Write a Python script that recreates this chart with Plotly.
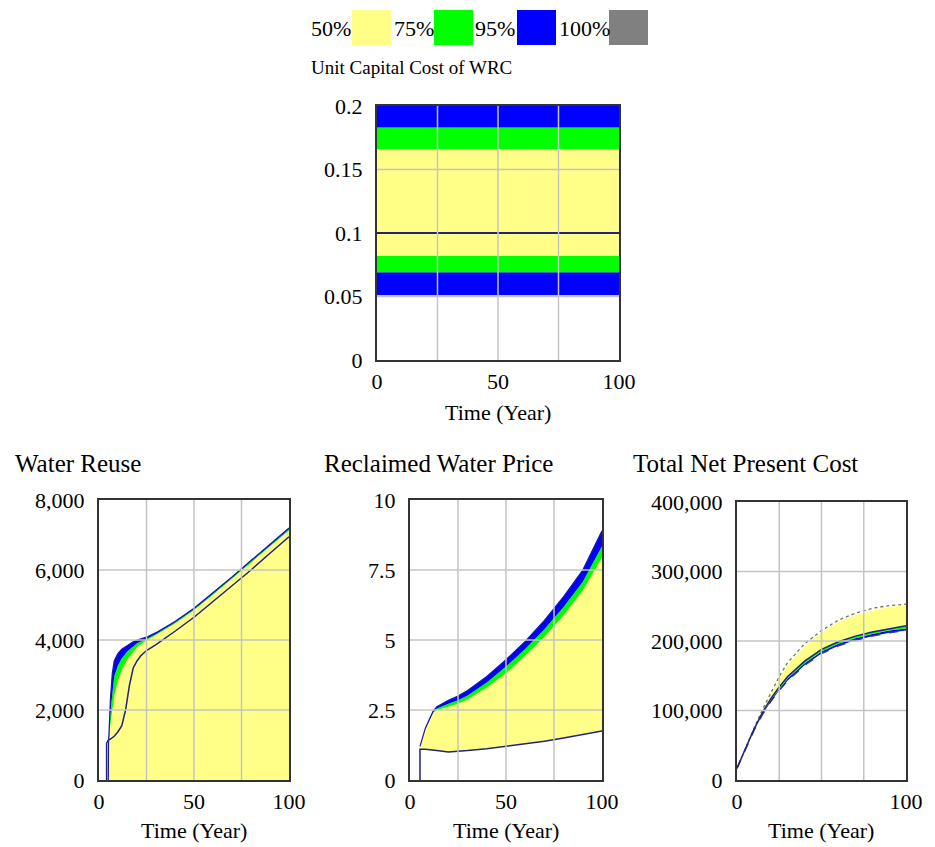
import plotly.graph_objects as go

# ---------------- data ----------------
legend_labels = ["50%", "75%", "95%", "100%"]
legend_colors = ["#FFFF88", "#00FF00", "#0000FF", "#808080"]

# Unit Capital Cost of WRC (constant bands)
wrc_t = [0, 100]
wrc_95_lo = [0.051, 0.051]
wrc_75_lo = [0.069, 0.069]
wrc_50_lo = [0.082, 0.082]
wrc_50_hi = [0.166, 0.166]
wrc_75_hi = [0.183, 0.183]
wrc_95_hi = [0.2, 0.2]
wrc_base = [0.1, 0.1]

# Water Reuse
wr_t = [4.9, 5, 6, 7, 8, 10, 12, 15, 18, 20, 25, 30, 40, 50, 60, 70, 80, 90, 100]
wr_50_hi = [0, 1000, 1600, 2000, 2400, 2850, 3150, 3450, 3680, 3800, 3990, 4140, 4470, 4850, 5290, 5740, 6210, 6670, 7130]
wr_75_hi = [0, 1000, 1950, 2550, 2950, 3280, 3480, 3680, 3830, 3910, 4030, 4170, 4500, 4880, 5320, 5770, 6240, 6700, 7165]
wr_95_hi = [0, 1000, 2300, 3050, 3400, 3620, 3740, 3850, 3950, 4000, 4080, 4210, 4530, 4910, 5350, 5800, 6270, 6730, 7200]
wr_base_t = [4, 4, 5, 6, 8, 10, 12, 14, 16, 18, 20, 22, 25, 30, 40, 50, 60, 70, 80, 90, 100]
wr_base = [0, 1050, 1150, 1170, 1250, 1380, 1550, 2000, 2700, 3200, 3400, 3550, 3700, 3870, 4250, 4650, 5100, 5550, 6000, 6480, 6950]

# Reclaimed Water Price
rwp_t = [5.2, 8, 12, 14, 20, 25, 30, 40, 50, 60, 70, 80, 90, 100]
rwp_lo = [1.1, 1.1, 1.08, 1.05, 1.0, 1.02, 1.05, 1.12, 1.2, 1.28, 1.38, 1.5, 1.62, 1.75]
rwp_50_hi = [1.2, 1.8, 2.4, 2.5, 2.62, 2.72, 2.88, 3.3, 3.82, 4.44, 5.12, 5.88, 6.78, 7.95]
rwp_75_hi = [1.2, 1.83, 2.42, 2.55, 2.72, 2.85, 3.02, 3.48, 4.05, 4.68, 5.38, 6.18, 7.08, 8.35]
rwp_95_hi = [1.2, 1.85, 2.45, 2.62, 2.85, 3.0, 3.2, 3.7, 4.3, 4.95, 5.7, 6.55, 7.5, 8.9]

# Total Net Present Cost
npc_t = [0, 5, 10, 15, 20, 25, 30, 40, 50, 60, 70, 80, 90, 100]
npc_base = [17000, 46000, 73000, 97000, 117000, 134000, 149000, 171000, 188000, 199000, 207000, 213000, 218000, 222000]
npc_50_hi = [17000, 46000, 74000, 100000, 123000, 145000, 165000, 192000, 212000, 227000, 237000, 244000, 249000, 251000]
npc_75_lo = [17000, 45000, 72000, 95000, 115000, 131000, 146000, 168000, 185000, 196000, 204000, 210000, 215000, 218000]
npc_95_lo = [17000, 45000, 71000, 94000, 113000, 129000, 143000, 165000, 182000, 193000, 201000, 207000, 212000, 215000]
npc_100_hi = [17000, 46000, 74000, 101000, 125000, 149000, 169000, 196000, 215000, 230000, 240000, 247000, 251000, 253000]

# axis ticks
wrc_yticks = [0, 0.05, 0.1, 0.15, 0.2]
wrc_ylabels = ["0", "0.05", "0.1", "0.15", "0.2"]
wr_yticks = [0, 2000, 4000, 6000, 8000]
wr_ylabels = ["0", "2,000", "4,000", "6,000", "8,000"]
rwp_yticks = [0, 2.5, 5, 7.5, 10]
rwp_ylabels = ["0", "2.5", "5", "7.5", "10"]
npc_yticks = [0, 100000, 200000, 300000, 400000]
npc_ylabels = ["0", "100,000", "200,000", "300,000", "400,000"]
x_grid = [0, 25, 50, 75, 100]

# ---------------- figure ----------------
W, H = 935, 847
FONT = "Liberation Serif, Times New Roman, serif"
YEL, GRN, BLU, NAVY = "#FFFF88", "#00FF00", "#0000FF", "#22227a"
GRID = "#c4c4c4"

fig = go.Figure()

def xd(a, b):
    return [a / W, b / W]

def yd(top, bottom):
    return [1 - bottom / H, 1 - top / H]

def band(x, y, color, fill, ax, lw=0, lcolor=None):
    fig.add_trace(go.Scatter(x=x, y=y, mode="lines", fill=fill, fillcolor=color,
                             line=dict(color=lcolor or color, width=lw), xaxis="x" + ax, yaxis="y" + ax,
                             showlegend=False, hoverinfo="skip"))

def line(x, y, color, ax, width=1.5, dash="solid"):
    fig.add_trace(go.Scatter(x=x, y=y, mode="lines", line=dict(color=color, width=width, dash=dash),
                             xaxis="x" + ax, yaxis="y" + ax, showlegend=False, hoverinfo="skip"))

# chart 1: Unit capital cost
band(wrc_t, wrc_95_lo, "rgba(0,0,0,0)", "none", "")
band(wrc_t, wrc_75_lo, BLU, "tonexty", "")
band(wrc_t, wrc_50_lo, GRN, "tonexty", "")
band(wrc_t, wrc_50_hi, YEL, "tonexty", "")
band(wrc_t, wrc_75_hi, GRN, "tonexty", "")
band(wrc_t, wrc_95_hi, BLU, "tonexty", "")
line(wrc_t, wrc_base, NAVY, "", 1.8)

# chart 2: Water reuse
band(wr_t, wr_50_hi, YEL, "tozeroy", "2")
band(wr_t, wr_75_hi, GRN, "tonexty", "2")
band(wr_t, wr_95_hi, BLU, "tonexty", "2", 1.2, "#1a1aa0")
line(wr_base_t, wr_base, NAVY, "2", 1.5)

# chart 3: Reclaimed water price
band(rwp_t, rwp_lo, "rgba(0,0,0,0)", "none", "3")
band(rwp_t, rwp_50_hi, YEL, "tonexty", "3")
band(rwp_t, rwp_75_hi, GRN, "tonexty", "3")
band(rwp_t, rwp_95_hi, BLU, "tonexty", "3", 1.2, "#1a1aa0")
line([rwp_t[0]] + rwp_t, [0] + rwp_lo, NAVY, "3", 1.5)

# chart 4: Total net present cost
band(npc_t, npc_95_lo, "rgba(0,0,0,0)", "none", "4")
band(npc_t, npc_75_lo, BLU, "tonexty", "4")
band(npc_t, npc_base, GRN, "tonexty", "4")
band(npc_t, npc_50_hi, YEL, "tonexty", "4")
line(npc_t, npc_100_hi, "#6a7a50", "4", 1.3, "dot")
line(npc_t, npc_95_lo, "#3030a0", "4", 1.5, "dash")
line(npc_t, npc_base, NAVY, "4", 1.5)

tickfont = dict(family=FONT, size=22, color="black")

def axes(suffix, xdom, ydom, yr, yt, yl, xt, xl, skip_y=()):
    xa = dict(domain=xdom, range=[0, 100], tickmode="array", tickvals=xt, ticktext=xl,
              showgrid=False, zeroline=False, showline=True, linecolor="#333", linewidth=2,
              mirror=True, ticks="", tickfont=tickfont, anchor="y" + suffix, automargin=False,
              ticklabelstandoff=1, layer="above traces", fixedrange=True)
    ya = dict(domain=ydom, range=yr, tickmode="array", tickvals=yt, ticktext=yl,
              showgrid=False, zeroline=False, showline=True, linecolor="#333", linewidth=2,
              mirror=True, ticks="", tickfont=tickfont, anchor="x" + suffix, automargin=False,
              ticklabelstandoff=8, layer="above traces", fixedrange=True)
    fig.layout["xaxis" + suffix] = xa
    fig.layout["yaxis" + suffix] = ya
    # gridlines drawn above the bands
    for v in x_grid[1:-1]:
        fig.add_shape(type="line", xref="x" + suffix, yref="y" + suffix, x0=v, x1=v,
                      y0=yr[0], y1=yr[1], line=dict(color=GRID, width=1.5), layer="above")
    for v in yt[1:-1]:
        if v in skip_y:
            continue
        fig.add_shape(type="line", xref="x" + suffix, yref="y" + suffix, x0=0, x1=100,
                      y0=v, y1=v, line=dict(color=GRID, width=1.5), layer="above")

axes("", xd(377, 619), yd(106, 360), [0, 0.2], wrc_yticks, wrc_ylabels, [0, 50, 100], ["0", "50", "100"],
     skip_y=(0.1,))
axes("2", xd(99, 289), yd(500, 780), [0, 8000], wr_yticks, wr_ylabels, [0, 50, 100], ["0", "50", "100"])
axes("3", xd(410, 602), yd(500, 780), [0, 10], rwp_yticks, rwp_ylabels, [0, 50, 100], ["0", "50", "100"])
axes("4", xd(737, 906), yd(502, 780), [0, 400000], npc_yticks, npc_ylabels, [0, 100], ["0", "100"])

ann = []
def text(s, x, y, size, xanchor="left"):
    ann.append(dict(text=s, x=x / W, y=1 - y / H, xref="paper", yref="paper", showarrow=False,
                    xanchor=xanchor, yanchor="middle", font=dict(family=FONT, size=size, color="black")))

# legend row
leg_text_x = [311, 394, 475, 559]
leg_box_x = [352, 434, 517, 609]
for lab, col, tx, bx in zip(legend_labels, legend_colors, leg_text_x, leg_box_x):
    text(lab, tx - 2, 28, 22)
    fig.add_shape(type="rect", xref="paper", yref="paper", x0=bx / W, x1=(bx + 39) / W,
                  y0=1 - 45 / H, y1=1 - 10 / H, fillcolor=col, line=dict(width=0))

text("Unit Capital Cost of WRC", 309, 68, 19)
text("Time (Year)", 498, 412, 22, "center")
text("Water Reuse", 13, 463, 25)
text("Reclaimed Water Price", 322, 463, 25)
text("Total Net Present Cost", 631, 463, 25)
text("Time (Year)", 194, 830, 22, "center")
text("Time (Year)", 506, 830, 22, "center")
text("Time (Year)", 821, 830, 22, "center")

fig.update_layout(width=W, height=H, margin=dict(l=0, r=0, t=0, b=0),
                  paper_bgcolor="white", plot_bgcolor="white", annotations=ann,
                  showlegend=False)

fig.write_html("out.html")
